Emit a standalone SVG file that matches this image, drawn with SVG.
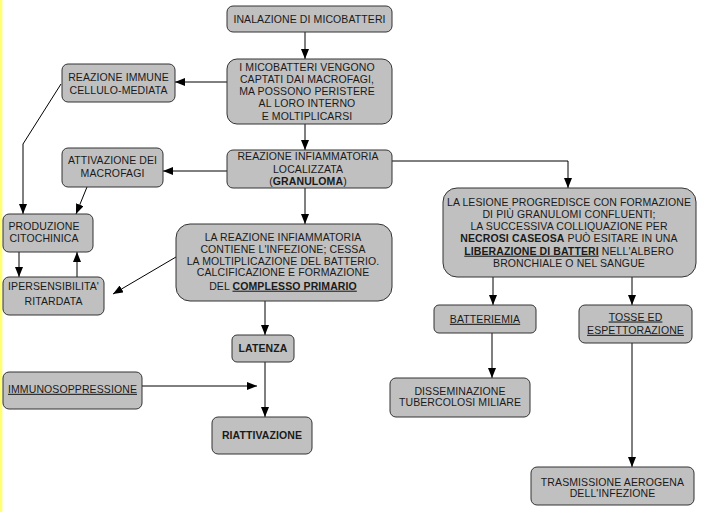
<svg xmlns="http://www.w3.org/2000/svg" width="702" height="512" viewBox="0 0 702 512">
<style>
.box{fill:#c0c0c0;stroke:#333;stroke-width:1}
text{font-family:"Liberation Sans",Arial,sans-serif;font-size:10.5px;fill:#1a1a1a;text-anchor:middle;letter-spacing:0.1px}
.b{font-weight:bold}
.u{text-decoration:underline}
.c{fill:none;stroke:#000;stroke-width:1}
</style>
<defs>
<marker id="ah" markerWidth="10" markerHeight="8" refX="10" refY="4" orient="auto" markerUnits="userSpaceOnUse">
<path d="M0,0 L10,4 L0,8 Z" fill="#000"/>
</marker>
</defs>
<rect x="0" y="0" width="702" height="512" fill="#fff"/>
<rect x="0" y="0" width="2" height="512" fill="#ffff70"/>
<rect x="2" y="0" width="1" height="512" fill="#ffffc8"/>

<g id="connectors">
<line class="c" x1="305" y1="32" x2="305" y2="59" marker-end="url(#ah)"/>
<line class="c" x1="227" y1="82" x2="175" y2="82" marker-end="url(#ah)"/>
<polyline class="c" points="61,84 23,144 23,214" marker-end="url(#ah)"/>
<line class="c" x1="305" y1="124" x2="305" y2="150" marker-end="url(#ah)"/>
<line class="c" x1="227" y1="171" x2="163" y2="171" marker-end="url(#ah)"/>
<line class="c" x1="87" y1="187" x2="76" y2="214" marker-end="url(#ah)"/>
<line class="c" x1="19" y1="252" x2="19" y2="277" marker-end="url(#ah)"/>
<line class="c" x1="77" y1="277" x2="77" y2="252" marker-end="url(#ah)"/>
<line class="c" x1="305" y1="188" x2="305" y2="224" marker-end="url(#ah)"/>
<line class="c" x1="176" y1="257" x2="113" y2="294" marker-end="url(#ah)"/>
<line class="c" x1="265" y1="301" x2="265" y2="335" marker-end="url(#ah)"/>
<line class="c" x1="265" y1="362" x2="265" y2="417" marker-end="url(#ah)"/>
<line class="c" x1="142" y1="386" x2="257" y2="386" marker-end="url(#ah)"/>
<polyline class="c" points="392,161 568,161 568,188" marker-end="url(#ah)"/>
<line class="c" x1="493" y1="277" x2="493" y2="305" marker-end="url(#ah)"/>
<line class="c" x1="632" y1="277" x2="632" y2="305" marker-end="url(#ah)"/>
<line class="c" x1="492" y1="333" x2="492" y2="378" marker-end="url(#ah)"/>
<line class="c" x1="632" y1="343" x2="632" y2="467" marker-end="url(#ah)"/>
</g>

<g id="inalazione">
<rect class="box" x="227" y="6" width="165" height="26" rx="6"/>
<text x="309.5" y="22.8">INALAZIONE DI MICOBATTERI</text>
</g>

<g id="captati">
<rect class="box" x="227" y="59" width="165" height="65" rx="10"/>
<text x="307" y="70.5">I MICOBATTERI VENGONO</text>
<text x="307" y="82.8">CAPTATI DAI MACROFAGI,</text>
<text x="307" y="95">MA POSSONO PERISTERE</text>
<text x="307" y="107.3">AL LORO INTERNO</text>
<text x="307" y="119.6">E MOLTIPLICARSI</text>
</g>

<g id="immune">
<rect class="box" x="62" y="64" width="113" height="38" rx="6"/>
<text x="118.5" y="80.8">REAZIONE IMMUNE</text>
<text x="118.5" y="93.8">CELLULO-MEDIATA</text>
</g>

<g id="attivazione">
<rect class="box" x="62" y="148" width="101" height="39" rx="6"/>
<text x="112.5" y="164.3">ATTIVAZIONE DEI</text>
<text x="112.5" y="177">MACROFAGI</text>
</g>

<g id="granuloma">
<rect class="box" x="227" y="150" width="165" height="38" rx="6"/>
<text x="308" y="160.4">REAZIONE INFIAMMATORIA</text>
<text x="308" y="173">LOCALIZZATA</text>
<text x="308" y="185.4">(<tspan class="b">GRANULOMA</tspan>)</text>
</g>

<g id="produzione">
<rect class="box" x="3" y="214" width="90" height="38" rx="6"/>
<text x="44" y="229.7">PRODUZIONE</text>
<text x="44" y="242">CITOCHINICA</text>
</g>

<g id="ipersensibilita">
<rect class="box" x="3" y="277" width="101" height="38" rx="6"/>
<text x="53.5" y="290.4">IPERSENSIBILITA'</text>
<text x="53.5" y="305">RITARDATA</text>
</g>

<g id="contiene">
<rect class="box" x="176" y="224" width="216" height="77" rx="14"/>
<text x="283" y="241.4">LA REAZIONE INFIAMMATORIA</text>
<text x="283" y="253">CONTIENE L'INFEZIONE; CESSA</text>
<text x="283" y="264.7">LA MOLTIPLICAZIONE DEL BATTERIO.</text>
<text x="283" y="276.4">CALCIFICAZIONE E FORMAZIONE</text>
<text x="283" y="289.7">DEL <tspan class="b u">COMPLESSO PRIMARIO</tspan></text>
</g>

<g id="latenza">
<rect class="box" x="232" y="335" width="62" height="27" rx="5"/>
<text class="b" x="263" y="351.5">LATENZA</text>
</g>

<g id="immunosoppressione">
<rect class="box" x="3" y="372" width="139" height="37" rx="6"/>
<text class="u" x="72.5" y="392.8">IMMUNOSOPPRESSIONE</text>
</g>

<g id="riattivazione">
<rect class="box" x="212" y="417" width="100" height="37" rx="6"/>
<text class="b" x="262" y="438.8">RIATTIVAZIONE</text>
</g>

<g id="lesione">
<rect class="box" x="443" y="188" width="253" height="89" rx="14"/>
<text x="569" y="205.5">LA LESIONE PROGREDISCE CON FORMAZIONE</text>
<text x="569" y="217.8">DI PIÙ GRANULOMI CONFLUENTI;</text>
<text x="569" y="230.1">LA SUCCESSIVA COLLIQUAZIONE PER</text>
<text x="569" y="242.4"><tspan class="b">NECROSI CASEOSA</tspan> PUÒ ESITARE IN UNA</text>
<text x="569" y="254.7"><tspan class="b u">LIBERAZIONE DI BATTERI</tspan> NELL'ALBERO</text>
<text x="569" y="267">BRONCHIALE O NEL SANGUE</text>
</g>

<g id="batteriemia">
<rect class="box" x="434" y="305" width="102" height="28" rx="5"/>
<text class="u" x="485" y="322.8">BATTERIEMIA</text>
</g>

<g id="tosse">
<rect class="box" x="579" y="305" width="113" height="38" rx="6"/>
<text class="u" x="635.5" y="320.5">TOSSE ED</text>
<text class="u" x="635.5" y="333.8">ESPETTORAZIONE</text>
</g>

<g id="disseminazione">
<rect class="box" x="390" y="378" width="140" height="39" rx="6"/>
<text x="460" y="394.5">DISSEMINAZIONE</text>
<text x="460" y="406.1">TUBERCOLOSI MILIARE</text>
</g>

<g id="trasmissione">
<rect class="box" x="531" y="467" width="163" height="38" rx="6"/>
<text x="612.5" y="485.5">TRASMISSIONE AEROGENA</text>
<text x="612.5" y="496.5">DELL'INFEZIONE</text>
</g>
</svg>
